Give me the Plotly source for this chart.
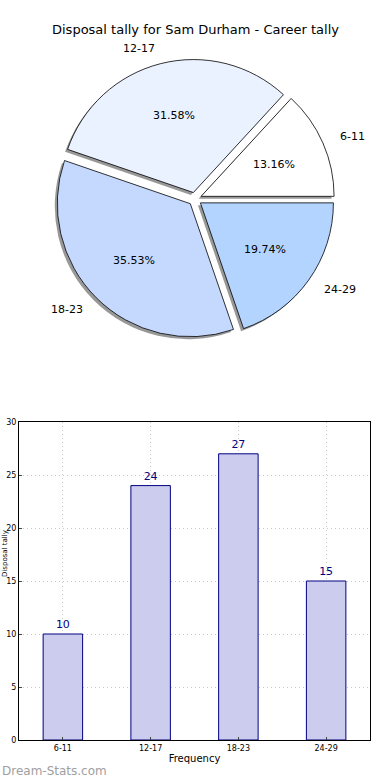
import numpy as np
import plotly.graph_objects as go

categories = ["6-11", "12-17", "18-23", "24-29"]
counts = [10, 24, 27, 15]
pie_colors = ["#ffffff", "#eaf1ff", "#c5d9ff", "#b3d4ff"]
title_text = "Disposal tally for Sam Durham - Career tally"
y_ticks = [0, 5, 10, 15, 20, 25, 30]

W, H = 390, 780
fig = go.Figure()

total = sum(counts)
# plotly lays the first counterclockwise slice clockwise of `rotation`; shift so it starts at 3 o'clock
rot = 90 - 360.0 * counts[0] / total

explode = 0.05
pull = [explode] * len(categories)
cx, cy = 195, 199
r = 133
half = r * (1 + explode)
pie_dom_y = [1 - (cy + half) / H, 1 - (cy - half) / H]
pie_dom_x = [(cx - half) / W, (cx + half) / W]

# shadow pie
dx, dy = -2.5 / W, -2.5 / H
fig.add_trace(go.Pie(
    labels=categories, values=counts, sort=False, direction="counterclockwise",
    rotation=rot, pull=pull, marker=dict(colors=["#7f7f7f"] * 4, line=dict(width=0)),
    textinfo="none", hoverinfo="skip", showlegend=False,
    domain=dict(x=[pie_dom_x[0] + dx, pie_dom_x[1] + dx], y=[pie_dom_y[0] + dy, pie_dom_y[1] + dy]),
    opacity=0.8,
))
fig.add_trace(go.Pie(
    labels=categories, values=counts, sort=False, direction="counterclockwise",
    rotation=rot, pull=pull, marker=dict(colors=pie_colors, line=dict(color="#000000", width=0.8)),
    textinfo="none", showlegend=False, domain=dict(x=pie_dom_x, y=pie_dom_y),
))

# category labels (outside) and percentages (inside), placed like matplotlib's pie
cum = np.cumsum([0] + counts)
for i, lab in enumerate(categories):
    mid = (cum[i] + cum[i + 1]) / 2 / total * 2 * np.pi
    c, s = np.cos(mid), np.sin(mid)
    rr = r * (explode + 1.12)
    fig.add_annotation(
        x=(cx + rr * c) / W, y=1 - (cy - rr * s) / H, xref="paper", yref="paper",
        text=lab, showarrow=False, font=dict(family="DejaVu Sans", size=11, color="#000000"),
        xanchor="left" if c > 0 else "right", yanchor="middle",
    )
    rp = r * (explode + 0.6)
    fig.add_annotation(
        x=(cx + rp * c) / W, y=1 - (cy - rp * s) / H, xref="paper", yref="paper",
        text="%.2f%%" % (100.0 * counts[i] / total), showarrow=False,
        font=dict(family="DejaVu Sans", size=11, color="#000000"),
        xanchor="center", yanchor="middle",
    )

# bars
fig.add_trace(go.Bar(
    x=categories, y=counts, width=0.45,
    marker=dict(color="#ccccee", line=dict(color="#000080", width=1)),
    text=[str(c) for c in counts], textposition="outside",
    textfont=dict(family="DejaVu Sans", size=11, color="#000080"),
    cliponaxis=False, showlegend=False, xaxis="x", yaxis="y",
))

fig.update_layout(
    width=W, height=H, paper_bgcolor="white", plot_bgcolor="white",
    margin=dict(l=0, r=0, t=0, b=0),
    font=dict(family="DejaVu Sans", color="#000000"),
    xaxis=dict(domain=[19 / W, 370 / W], range=[-0.5, 3.5], showline=True, mirror=True,
               linecolor="#000000", linewidth=1, showgrid=True, gridcolor="#c8c8c8",
               griddash="1px,3px", ticks="inside", ticklen=3, tickfont=dict(size=8),
               title=dict(text="Frequency", font=dict(size=10), standoff=3),
               anchor="y", fixedrange=True, automargin=False),
    yaxis=dict(domain=[1 - 740 / H, 1 - 422 / H], range=[0, 30], tickvals=y_ticks,
               showline=True, mirror=True, linecolor="#000000", linewidth=1,
               showgrid=True, gridcolor="#c8c8c8", griddash="1px,3px", zeroline=False,
               ticks="inside", ticklen=3, tickfont=dict(size=8), anchor="x",
               fixedrange=True, automargin=False),
)

fig.add_annotation(x=0.5, y=1 - 30 / H, xref="paper", yref="paper", text=title_text,
                   showarrow=False, font=dict(family="DejaVu Sans", size=13, color="#000000"),
                   xanchor="center", yanchor="middle")
fig.add_annotation(x=-1 / W, y=1 - 554 / H, xref="paper", yref="paper", text="Disposal tally",
                   textangle=-90, showarrow=False, font=dict(size=7, color="#000000"),
                   xanchor="left", yanchor="middle")
fig.add_annotation(x=0, y=1 - 771 / H, xref="paper", yref="paper", text="Dream-Stats.com",
                   showarrow=False, font=dict(family="DejaVu Sans", size=12, color="#a0a0a0"),
                   xanchor="left", yanchor="middle")

fig.write_html("out.html", config={"displayModeBar": False},
               post_script="document.body.style.margin='0';document.body.style.overflow='hidden';")
